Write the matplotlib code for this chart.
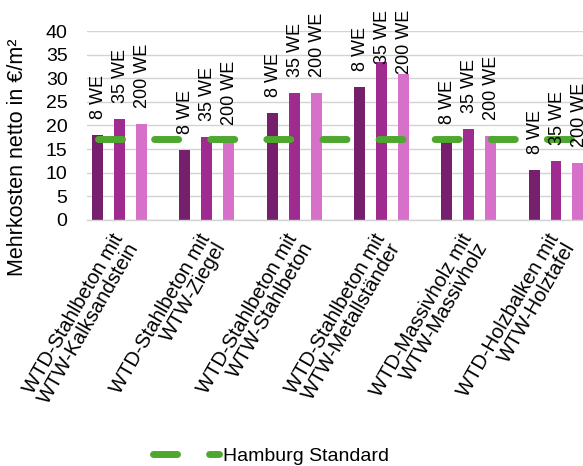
import matplotlib
matplotlib.use("Agg")
import matplotlib.pyplot as plt
import matplotlib.transforms as mtransforms
import numpy as np

plt.rcParams["font.family"] = ["Liberation Sans", "DejaVu Sans"]
plt.rcParams["lines.scale_dashes"] = False

categories = [
    "WTD-Stahlbeton mit\nWTW-Kalksandstein",
    "WTD-Stahlbeton mit\nWTW-Ziegel",
    "WTD-Stahlbeton mit\nWTW-Stahlbeton",
    "WTD-Stahlbeton mit\nWTW-Metallständer",
    "WTD-Massivholz mit\nWTW-Massivholz",
    "WTD-Holzbalken mit\nWTW-Holztafel",
]
series_names = ["8 WE", "35 WE", "200 WE"]
we_8 = [17.9, 14.8, 22.6, 28.2, 16.9, 10.6]
we_35 = [21.4, 17.6, 26.9, 33.4, 19.3, 12.5]
we_200 = [20.4, 16.8, 26.8, 30.9, 17.8, 12.1]
hamburg_standard = 17.1
yticks = [0, 5, 10, 15, 20, 25, 30, 35, 40]

colors = ["#76206d", "#9f2a90", "#d670c8"]
green = "#4ea72e"

W, H = 583, 466
fig = plt.figure(figsize=(W / 100, H / 100), dpi=100)
ax_left, ax_bottom, ax_top = 87, 220, 31
ax = fig.add_axes([ax_left / W, 1 - ax_bottom / H, (W - ax_left) / W, (ax_bottom - ax_top) / H])

group_px = 87.3
first_px = 119.5
ax.set_xlim((ax_left - first_px) / group_px, (W - first_px) / group_px)
ax.set_ylim(0, 40)

x = np.arange(len(categories))
offset = 0.252
width = 0.126
series = [we_8, we_35, we_200]

ax.set_yticks(yticks)
ax.grid(axis="y", color="#d3d3d3", linewidth=1.0, zorder=0)
ax.set_axisbelow(True)
for s in ["top", "right", "left"]:
    ax.spines[s].set_visible(False)
ax.spines["bottom"].set_color("#d3d3d3")
ax.spines["bottom"].set_linewidth(1.0)
ax.tick_params(axis="both", length=0)
ax.tick_params(axis="y", labelsize=14, pad=14)

for i, (vals, col) in enumerate(zip(series, colors)):
    ax.bar(x + (i - 1) * offset, vals, width=width, color=col, zorder=2)

# Hamburg Standard reference line
line, = ax.plot([x[0] - offset, x[-1] + offset], [hamburg_standard] * 2,
                color=green, linewidth=5.0, solid_capstyle="round",
                dash_capstyle="round", linestyle=(0, (17.3, 23.1)),
                zorder=3, label="Hamburg Standard", clip_on=False)

ax.set_xticks(x)
ax.set_xticklabels(categories, rotation=60, ha="right", va="center",
                   rotation_mode="anchor", multialignment="right",
                   fontsize=14.5, linespacing=0.95)
ax.tick_params(axis="x", pad=12)
shift = mtransforms.ScaledTranslation(5 / 72, -2 / 72, fig.dpi_scale_trans)
for lbl in ax.get_xticklabels():
    lbl.set_transform(lbl.get_transform() + shift)

ax.set_ylabel("Mehrkosten netto in €/m²", fontsize=15.5)
ax.yaxis.set_label_coords(-0.118, 0.333)

# series name labels above each bar
texts = []
for i, vals in enumerate(series):
    for j, v in enumerate(vals):
        t = ax.annotate(series_names[i], xy=(x[j] + (i - 1) * offset, v),
                        xytext=(0.8, 11.5), textcoords="offset points",
                        rotation=90, ha="center", va="bottom", fontsize=13,
                        annotation_clip=False, zorder=4)
        texts.append(t)

fig.canvas.draw()
renderer = fig.canvas.get_renderer()
top_limit = H - 10
for t in texts:
    bb = t.get_window_extent(renderer)
    if bb.y1 > top_limit:
        t.xyann = (t.xyann[0], t.xyann[1] - (bb.y1 - top_limit) * 72 / 100)

fig.legend(handles=[line], loc="center", bbox_to_anchor=(0.465, 0.022),
           frameon=False, fontsize=14, handlelength=3.4,
           handletextpad=0.2, borderpad=0)

fig.savefig("out.png", dpi=100)
